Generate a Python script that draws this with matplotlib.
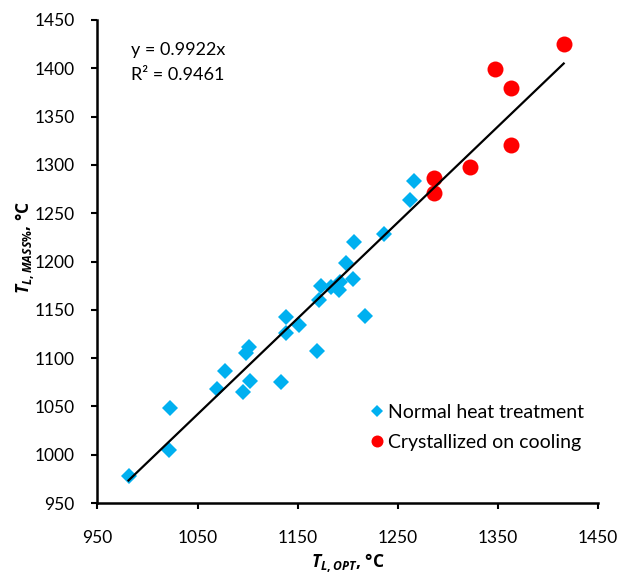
import matplotlib
matplotlib.use("Agg")
import matplotlib.pyplot as plt
import numpy as np

# Data
normal_x = [981, 1021, 1022, 1069, 1077, 1095, 1098, 1101, 1102, 1133, 1138, 1138, 1151,
            1169, 1171, 1173, 1183, 1191, 1192, 1198, 1205, 1206, 1217, 1236, 1262, 1266]
normal_y = [978, 1005, 1048, 1068, 1087, 1065, 1105, 1112, 1076, 1075, 1126, 1143, 1134,
            1107, 1160, 1175, 1174, 1170, 1179, 1198, 1182, 1220, 1144, 1228, 1264, 1283]
cryst_x = [1286, 1286, 1322, 1347, 1363, 1363, 1416]
cryst_y = [1286, 1271, 1298, 1399, 1380, 1321, 1425]
slope = 0.9922
r2 = 0.9461
ticks = [950, 1050, 1150, 1250, 1350, 1450]
yticks = [950, 1000, 1050, 1100, 1150, 1200, 1250, 1300, 1350, 1400, 1450]

plt.rcParams['font.family'] = ['Lato', 'DejaVu Sans']
plt.rcParams['mathtext.fontset'] = 'custom'
plt.rcParams['mathtext.it'] = 'Open Sans:italic:bold'
plt.rcParams['mathtext.rm'] = 'Open Sans:bold'
plt.rcParams['mathtext.bf'] = 'Open Sans:bold'

fig = plt.figure(figsize=(6.21, 5.76), dpi=100)
ax = fig.add_axes([0.157, 0.1267, 0.8055, 0.8386])

ax.plot(normal_x, normal_y, linestyle='none', marker='D', markersize=8,
        color='#00B0F0', markeredgewidth=0, label='Normal heat treatment', zorder=3)
ax.plot(cryst_x, cryst_y, linestyle='none', marker='o', markersize=11.5,
        color='#FF0000', markeredgewidth=0, label='Crystallized on cooling', zorder=3)

allx = np.array(normal_x + cryst_x)
lx = np.array([allx.min(), allx.max()])
ax.plot(lx, slope * lx, color='black', linewidth=1.6, zorder=4)

ax.set_xlim(950, 1450)
ax.set_ylim(950, 1450)
ax.set_xticks(ticks)
ax.set_yticks(yticks)
for s in ['top', 'right']:
    ax.spines[s].set_visible(False)
for s in ['left', 'bottom']:
    ax.spines[s].set_linewidth(1.8)
ax.tick_params(direction='out', length=4.3, width=1.5, labelsize=12.5)
ax.tick_params(axis='x', pad=15)
ax.tick_params(axis='y', pad=12)

ax.set_xlabel(r'$T_{L,OPT}$, °C', fontsize=12.5, fontweight='bold', family='Open Sans')
ax.set_ylabel(r'$T_{L,MASS\%}$, °C', fontsize=12.5, fontweight='bold', family='Open Sans')
ax.xaxis.set_label_coords(0.5, -0.1)
ax.yaxis.set_label_coords(-0.12, 0.53)

ax.text(0.067, 0.938, f'y = {slope}x', transform=ax.transAxes, fontsize=13, va='center')
ax.text(0.067, 0.886, f'R² = {r2}', transform=ax.transAxes, fontsize=13, va='center')

leg = ax.legend(loc='center left', bbox_to_anchor=(0.535, 0.157), frameon=False,
                fontsize=14, handletextpad=0.0, markerscale=0.75, handlelength=1.2,
                labelspacing=0.65, borderpad=0, borderaxespad=0)

fig.savefig('out.png', dpi=100)
